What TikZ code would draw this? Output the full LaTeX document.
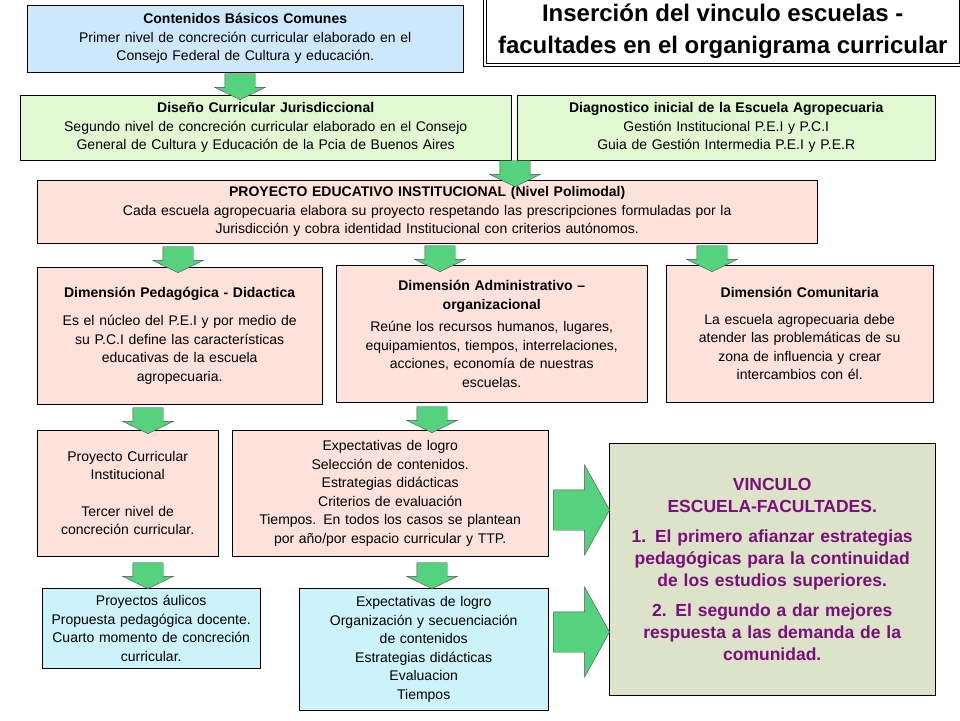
\documentclass[tikz,border=0pt]{standalone}
\usepackage{fontspec}
\setmainfont{Liberation Sans}
\usetikzlibrary{shapes.arrows}
\definecolor{azul}{HTML}{CCE8FA}
\definecolor{verdeclaro}{HTML}{E2F8D2}
\definecolor{rosa}{HTML}{FCE2DA}
\definecolor{celeste}{HTML}{CCF2FA}
\definecolor{oliva}{HTML}{DDE3C9}
\definecolor{flecha}{HTML}{55D27E}
\definecolor{violeta}{HTML}{7A0E7A}
\begin{document}
\begin{tikzpicture}[x=1pt,y=-1pt,
  box/.style={draw,anchor=north west,inner sep=1pt,align=center,
    font=\fontsize{14}{18.5}\selectfont},
  down/.style={single arrow,draw=black!70,fill=flecha,rotate=270,
    minimum height=26pt,inner xsep=0pt,inner ysep=15pt,single arrow head extend=10pt,
    single arrow tip angle=128},
  right/.style={single arrow,draw=black!70,fill=flecha,
    minimum height=56pt,inner xsep=0pt,inner ysep=20pt,single arrow head extend=25pt,
    single arrow tip angle=122}]
\useasboundingbox (0,0) rectangle (960,720);
% title
\node[draw,line width=1.5pt,double,double distance=1.5pt,anchor=north west,
  minimum width=476pt,minimum height=68pt,align=center,
  font=\fontsize{24}{32}\selectfont\bfseries] (titulo) at (484,-4)
  {Inserción del vinculo escuelas -\\facultades en el organigrama curricular};
% first levels
\node[box,fill=azul,text width=434pt,minimum height=67pt] (cbc) at (27,5)
  {\textbf{Contenidos Básicos Comunes}\\Primer nivel de concreción curricular elaborado en el\\Consejo Federal de Cultura y educación.};
\node[box,fill=verdeclaro,text width=489pt,minimum height=65pt] (dcj) at (20,95)
  {\textbf{Diseño Curricular Jurisdiccional}\\Segundo nivel de concreción curricular elaborado en el Consejo\\General de Cultura y Educación de la Pcia de Buenos Aires};
\node[box,fill=verdeclaro,text width=416pt,minimum height=65pt] (diag) at (517,95)
  {\textbf{Diagnostico inicial de la Escuela Agropecuaria}\\Gestión Institucional P.E.I y P.C.I\\Guia de Gestión Intermedia P.E.I y P.E.R};
\node[box,fill=rosa,text width=778pt,minimum height=63pt] (pei) at (37,180)
  {\textbf{PROYECTO EDUCATIVO INSTITUCIONAL (Nivel Polimodal)}\\Cada escuela agropecuaria elabora su proyecto respetando las prescripciones formuladas por la\\Jurisdicción y cobra identidad Institucional con criterios autónomos.};
% dimensions
\node[box,fill=rosa,text width=283pt,minimum height=137pt] (pedag) at (37,267)
  {\textbf{Dimensión Pedagógica - Didactica}\\[10pt]Es el núcleo del P.E.I y por medio de\\su P.C.I define las características\\educativas de la escuela\\agropecuaria.};
\node[box,fill=rosa,text width=309pt,minimum height=137pt] (admin) at (336,265)
  {\textbf{Dimensión Administrativo –}\\\textbf{organizacional}\\[4pt]Reúne los recursos humanos, lugares,\\equipamientos, tiempos, interrelaciones,\\acciones, economía de nuestras\\escuelas.};
\node[box,fill=rosa,text width=265pt,minimum height=137pt] (comun) at (666,265)
  {\textbf{Dimensión Comunitaria}\\[8pt]La escuela agropecuaria debe\\atender las problemáticas de su\\zona de influencia y crear\\intercambios con él.\\[12pt]};
% lower levels
\node[box,fill=rosa,text width=179pt,minimum height=126pt] (pci) at (37,430)
  {Proyecto Curricular\\Institucional\\[18pt]Tercer nivel de\\concreción curricular.\\[8pt]};
\node[box,fill=rosa,text width=314pt,minimum height=126pt] (expect) at (232,430)
  {Expectativas de logro\\Selección de contenidos.\\Estrategias didácticas\\Criterios de evaluación\\Tiempos.  En todos los casos se plantean\\por año/por espacio curricular y TTP.};
\node[box,fill=celeste,text width=216pt,minimum height=80pt] (aulicos) at (42,588)
  {Proyectos áulicos\\Propuesta pedagógica docente.\\Cuarto momento de concreción\\curricular.};
\node[box,fill=celeste,text width=247pt,minimum height=122pt] (expect2) at (299,588)
  {Expectativas de logro\\Organización y secuenciación\\de contenidos\\Estrategias didácticas\\Evaluacion\\Tiempos};
\node[box,fill=oliva,text width=324pt,minimum height=252pt,text=violeta,
  font=\fontsize{17.5}{22}\selectfont\bfseries] (vinculo) at (609,443)
  {VINCULO\\ESCUELA-FACULTADES.\\[8pt]1. El primero afianzar estrategias\\pedagógicas para la continuidad\\de los estudios superiores.\\[8pt]2. El segundo a dar mejores\\respuesta a las demanda de  la\\comunidad.};
% arrows
\node[down] (f1) at (240,83) {};
\node[down] (f2) at (515,170) {};
\node[down] (f3) at (178,256) {};
\node[down] (f4) at (440,255) {};
\node[down] (f5) at (712,255) {};
\node[down] (f6) at (148,417) {};
\node[down] (f7) at (432,416) {};
\node[down] (f8) at (148,572) {};
\node[down] (f9) at (432,572) {};
\node[right] (f10) at (576,510) {};
\node[right] (f11) at (576,632) {};
\end{tikzpicture}
\end{document}
